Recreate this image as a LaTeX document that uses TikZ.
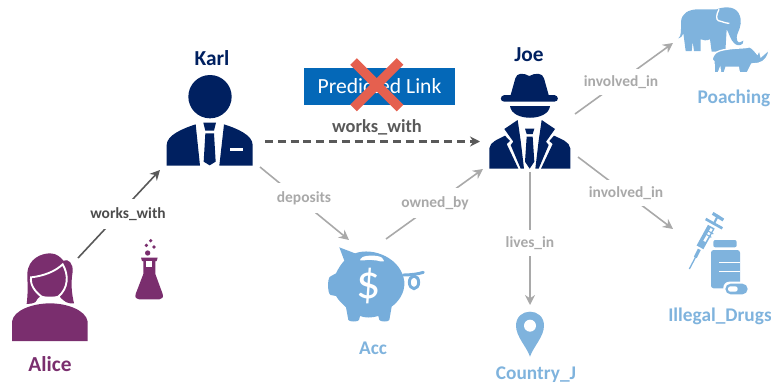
\documentclass[tikz,border=0pt]{standalone}
\usepackage{fontspec}
\setmainfont{Carlito}
\usetikzlibrary{arrows.meta}
\definecolor{navy}{HTML}{002060}
\definecolor{plum}{HTML}{7A2E6E}
\definecolor{sky}{HTML}{7FB3DD}
\definecolor{pig}{HTML}{76ADDB}
\definecolor{lightedge}{HTML}{A9A9A9}
\definecolor{darkedge}{HTML}{595959}
\definecolor{boxblue}{HTML}{0468B8}
\definecolor{crossred}{HTML}{E5604F}
\tikzset{
  zoomed/.style={shift={(#1)},x=.25pt,y=-.25pt},
  iconanchor/.style={inner sep=0pt,outer sep=0pt,minimum width=1pt,minimum height=1pt},
  conn/.style={draw=lightedge,line width=1.2pt,-{Stealth[length=7.5pt,width=7.5pt]}},
  conndark/.style={draw=darkedge,line width=1.2pt,-{Stealth[length=7.5pt,width=7.5pt]}},
  edgelab/.style={fill=white,inner sep=1pt,font=\fontsize{11.6}{13}\selectfont\bfseries},
  persona/.style={inner sep=0pt,font=\fontsize{14.5}{17}\selectfont\bfseries},
  bigname/.style={inner sep=0pt,font=\fontsize{16}{18}\selectfont\bfseries},
  cutline/.style={draw=white,line width=1.4pt}
}
\begin{document}
\begin{tikzpicture}[x=.75pt,y=-.75pt]
\useasboundingbox (0,0) rectangle (771,389);
% anchor nodes for the icons
\node[iconanchor] (alice) at (50,297) {};
\node[iconanchor] (karl) at (210,120) {};
\node[iconanchor] (joe) at (530,121) {};
\node[iconanchor] (acc) at (368,285) {};
\node[iconanchor] (country) at (530,335) {};
\node[iconanchor] (poaching) at (723,40) {};
\node[iconanchor] (drugs) at (718,255) {};

% connectors
\draw[conndark] ([shift={(28,-39)}]alice.center) -- ([shift={(-50,50)}]karl.center);
\draw[conndark,line width=1.6pt,dash pattern=on 6pt off 3.6pt] ([shift={(55,21.5)}]karl.center) -- ([shift={(-50,20.5)}]joe.center);
\draw[conn] ([shift={(50,47)}]karl.center) -- ([shift={(-19,-45)}]acc.center);
\draw[conn] ([shift={(18,-46)}]acc.center) -- ([shift={(-47,48)}]joe.center);
\draw[conn] ([shift={(0,51)}]joe.center) -- ([shift={(0,-30)}]country.center);
\draw[conn] ([shift={(45,-7)}]joe.center) -- ([shift={(-50,3)}]poaching.center);
\draw[conn] ([shift={(48,36)}]joe.center) -- ([shift={(-45,-26)}]drugs.center);

% edge labels
\node[edgelab,text=darkedge!85!black,minimum height=23pt] (l1) at (128,214) {works\_with};
\node[edgelab,text=lightedge,minimum height=22pt] (l2) at (304,198) {deposits};
\node[edgelab,text=lightedge,minimum height=22pt] (l3) at (435,203) {owned\_by};
\node[edgelab,text=lightedge,minimum height=20pt] (l4) at (530,243) {lives\_in};
\node[edgelab,text=lightedge,minimum height=20pt] (l5) at (621,82) {involved\_in};
\node[edgelab,text=lightedge,minimum height=20pt] (l6) at (626,193) {involved\_in};
\node[inner sep=0pt,text=darkedge,font=\fontsize{13.8}{16}\selectfont\bfseries] (l7) at (377,127) {works\_with};

% predicted link box
\node[fill=boxblue,text=white,minimum width=113.25pt,minimum height=27.75pt,inner sep=0pt,font=\fontsize{16.2}{18}\selectfont] (pred) at (379.5,86.5) {Predicted Link};
\draw[crossred,line width=7pt] (353.5,61.5) -- (400,108);
\draw[crossred,line width=7pt] (400,61.5) -- (353.5,108);

% names
\node[bigname,text=navy] (nkarl) at (212,58.5) {Karl};
\node[bigname,text=navy] (njoe) at (529,55) {Joe};
\node[bigname,text=plum] (nalice) at (50,364) {Alice};
\node[persona,text=sky] (nacc) at (373,348) {Acc};
\node[persona,text=sky] (ncountry) at (536,375) {Country\_J};
\node[persona,text=sky] (npoach) at (734,98) {Poaching};
\node[persona,text=sky] (ndrugs) at (720,316) {Illegal\_Drugs};

% Alice + flask
\begin{scope}[zoomed={0,150}]
\fill[plum] (36,573) -- (36,515) .. controls (40,480) and (100,460) .. (150,460) .. controls (200,460) and (258,480) .. (263,515) -- (263,573) -- cycle;
\fill[plum] (80,462) .. controls (85,420) and (82,400) .. (82,370) .. controls (85,325) and (125,310) .. (150,310) .. controls (170,310) and (182,322) .. (190,332) .. controls (205,325) and (220,340) .. (218,365) .. controls (212,400) and (215,430) .. (222,460) .. controls (205,462) and (190,455) .. (175,440) -- (125,440) .. controls (115,455) and (100,462) .. (80,462) -- cycle;
\draw[cutline] (108,460) .. controls (112,450) and (118,445) .. (125,440) .. controls (105,425) and (90,405) .. (93,382) .. controls (130,378) and (165,365) .. (188,343) .. controls (207,375) and (205,415) .. (175,440) .. controls (183,450) and (190,455) .. (197,460);
\draw[cutline] (125,440) .. controls (140,446) and (160,446) .. (175,440);
\fill[plum] (452,272) circle (5.5) (439,286) circle (5.5) (462,291) circle (5.5) (443,309) circle (8);
\fill[plum] (423,323) -- (473,323) -- (470,333) -- (466,333) -- (466,372) -- (488,432) .. controls (491,442) and (486,448) .. (478,448) -- (417,448) .. controls (409,448) and (404,442) .. (407,432) -- (430,372) -- (430,333) -- (426,333) -- cycle;
\fill[white] (439,333) -- (457,333) -- (457,350) -- (439,350) -- cycle;
\end{scope}

% Karl
\begin{scope}[zoomed={150,30}]
\fill[navy] (180,200) circle (65);
\fill[navy] (137,283) -- (150,407) -- (50,407) -- (50,345) .. controls (50,315) and (100,295) .. (137,283) -- cycle;
\fill[navy] (222,283) -- (208,407) -- (308,407) -- (308,345) .. controls (308,315) and (260,295) .. (222,283) -- cycle;
\fill[navy] (160,278) -- (198,278) -- (192,302) -- (166,302) -- cycle;
\fill[navy] (166,310) -- (192,310) -- (197,395) -- (179,406) -- (161,395) -- cycle;
\fill[white] (240,353) rectangle (280,362);
\end{scope}

% Joe
\begin{scope}[zoomed={470,30}]
\fill[navy] (120,228) .. controls (125,275) and (235,275) .. (240,228) -- cycle;
\fill[navy] (103,195) -- (122,195) -- (136,145) .. controls (140,128) and (160,128) .. (178,138) .. controls (195,128) and (218,128) .. (222,145) -- (236,195) -- (253,195) .. controls (267,197) and (267,215) .. (253,215) -- (103,215) .. controls (89,215) and (89,197) .. (103,195) -- cycle;
\fill[navy] (58,416) -- (58,355) .. controls (60,335) and (85,328) .. (105,317) -- (120,333) -- (110,342) -- (145,416) -- cycle;
\fill[navy] (301,416) -- (301,355) .. controls (298,335) and (275,328) .. (252,317) -- (238,333) -- (248,342) -- (213,416) -- cycle;
\fill[navy] (103,297) -- (143,270) -- (152,332) -- (162,416) -- (152,416) -- (122,345) -- (130,335) -- cycle;
\fill[navy] (255,297) -- (215,270) -- (206,332) -- (196,416) -- (206,416) -- (236,345) -- (228,335) -- cycle;
\fill[navy] (165,296) -- (193,296) -- (188,312) -- (170,312) -- cycle;
\fill[navy] (170,320) -- (188,320) -- (193,395) -- (179,416) -- (165,395) -- cycle;
\end{scope}

% Piggy bank
\begin{scope}[zoomed={310,220}]
\fill[pig] (88,82) -- (135,100) .. controls (190,80) and (275,115) .. (283,185) .. controls (285,220) and (265,245) .. (245,260) -- (238,300) .. controls (236,306) and (212,306) .. (208,300) -- (205,288) .. controls (185,294) and (165,294) .. (150,288) -- (147,300) .. controls (145,306) and (118,306) .. (115,300) -- (108,262) .. controls (95,250) and (85,240) .. (78,228) -- (62,225) .. controls (52,222) and (52,175) .. (60,170) -- (78,160) .. controls (85,145) and (95,130) .. (103,122) -- cycle;
\draw[pig,line width=2.2pt,line cap=round] (280,165) .. controls (300,165) and (325,162) .. (340,157);
\draw[pig,line width=2.2pt] (312,187) ellipse (14 and 19);
\fill[white,rounded corners=2pt] (150,115) .. controls (170,105) and (205,105) .. (222,118) -- (220,127) .. controls (200,120) and (170,118) .. (152,124) -- cycle;
\node[text=white,inner sep=0pt,font=\fontsize{36}{38}\selectfont] (dollar) at (177,197) {\$};
\end{scope}

% Pin
\begin{scope}[zoomed={480,220}]
\fill[sky] (150,410) .. controls (140,380) and (108,350) .. (108,317) .. controls (108,290) and (128,275) .. (150,275) .. controls (172,275) and (192,290) .. (192,317) .. controls (192,350) and (160,380) .. (150,410) -- cycle;
\fill[white] (150,317) circle (18);
\end{scope}

% Elephant and rhino
\begin{scope}[zoomed={570,0}]
\fill[sky] (325,115) .. controls (335,110) and (333,85) .. (333,65) .. controls (335,40) and (355,28) .. (385,28) -- (440,28) .. controls (455,22) and (490,15) .. (505,38) .. controls (518,60) and (512,80) .. (503,100) .. controls (495,120) and (505,132) .. (512,126) -- (520,122) .. controls (522,135) and (505,140) .. (495,132) .. controls (480,120) and (478,100) .. (470,88) -- (466,155) -- (425,155) -- (420,118) .. controls (410,122) and (400,122) .. (392,118) -- (392,153) -- (372,153) -- (368,125) -- (365,153) -- (347,153) -- (340,100) .. controls (335,110) and (332,115) .. (325,115) -- cycle;
\draw[white,line width=1pt] (447,28) .. controls (438,45) and (438,58) .. (445,62) .. controls (458,65) and (468,70) .. (478,70);
\fill[sky,draw=white,line width=1pt] (426,178) .. controls (430,160) and (440,152) .. (470,148) .. controls (495,143) and (530,145) .. (538,140) .. controls (550,145) and (555,155) .. (562,162) -- (568,150) -- (573,170) -- (598,148) .. controls (595,170) and (585,185) .. (565,190) -- (545,192) -- (532,218) -- (508,218) -- (505,202) -- (468,202) -- (463,218) -- (452,218) -- (450,205) -- (445,218) -- (433,218) -- (432,185) -- cycle;
\end{scope}

% Syringe and bottle
\begin{scope}[zoomed={570,170}]
\draw[sky,line width=1pt] (358,297) -- (380,255);
\draw[sky,line width=2.4pt] (376,262) -- (388,238);
\draw[sky,line width=5.8pt] (390,232) -- (424,170);
\draw[white,line width=1.8pt] (403,214) -- (425,176);
\draw[sky,line width=.8pt] (407,192) -- (424,202);
\draw[sky,line width=.8pt] (413,182) -- (430,192);
\draw[sky,line width=2pt] (407,147) -- (457,175);
\draw[sky,line width=1.6pt] (430,164) -- (445,135);
\draw[sky,line width=2.4pt] (428,130) -- (460,150);
\fill[sky,rounded corners=1.5pt] (430,210) rectangle (500,232);
\fill[sky,rounded corners=2pt] (423,240) rectangle (510,355);
\fill[white] (447,275) rectangle (510,307);
\fill[sky] (447,280) rectangle (510,302);
\fill[white,rounded corners=4.5pt] (460,335) rectangle (538,378);
\fill[sky,rounded corners=4pt] (466,341) rectangle (533,373);
\fill[white,rounded corners=1.8pt] (474,349) rectangle (503,365);
\end{scope}
\end{tikzpicture}
\end{document}
